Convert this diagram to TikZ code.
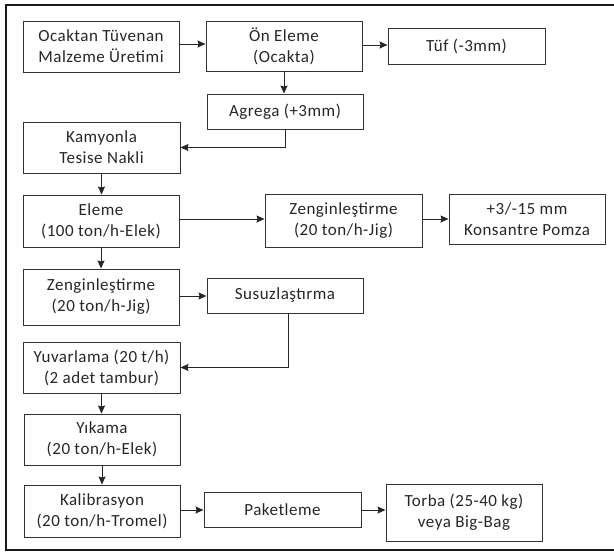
\documentclass[tikz,border=0pt]{standalone}
\usepackage{fontspec}
\setmainfont{Carlito}[LetterSpace=3.0]
\usetikzlibrary{arrows.meta}
\begin{document}
\begin{tikzpicture}[x=1pt,y=-1pt,
  box/.style={draw=black!80, line width=0.9pt, align=center, inner sep=0pt,
    font=\fontsize{17}{21}\selectfont, text=black!85},
  conn/.style={draw=black!85, line width=1pt, -{Stealth[length=8pt,width=7pt,inset=1pt]}}]
\useasboundingbox (0,0) rectangle (614,552);
\draw[line width=2pt, black!90] (614,5) -- (6,5) -- (6,550) -- (614,550);

\node[box, minimum width=156pt, minimum height=51pt] (ocak) at (101,46.5) {Ocaktan Tüvenan\\Malzeme Üretimi};
\node[box, minimum width=156pt, minimum height=50pt] (on) at (284,46) {Ön Eleme\\(Ocakta)};
\node[box, minimum width=157pt, minimum height=36pt] (tuf) at (466.5,46) {Tüf (-3mm)};
\node[box, minimum width=156pt, minimum height=35pt] (agr) at (285,111.5) {Agrega (+3mm)};
\node[box, minimum width=157pt, minimum height=51pt] (kam) at (101.5,147.5) {Kamyonla\\Tesise Nakli};
\node[box, minimum width=156pt, minimum height=52pt] (ele) at (101,221) {Eleme\\(100 ton/h-Elek)};
\node[box, minimum width=157pt, minimum height=53pt] (zr) at (343.5,220.5) {Zenginleştirme\\(20 ton/h-Jig)};
\node[box, minimum width=156pt, minimum height=50pt] (kons) at (527,219) {+3/-15 mm\\Konsantre Pomza};
\node[box, minimum width=156pt, minimum height=56pt] (zl) at (101,297) {Zenginleştirme\\(20 ton/h-Jig)};
\node[box, minimum width=156pt, minimum height=35pt] (sus) at (285,295.5) {Susuzlaştırma};
\node[box, minimum width=157pt, minimum height=51pt] (yuv) at (101.5,367.5) {Yuvarlama (20 t/h)\\(2 adet tambur)};
\node[box, minimum width=156pt, minimum height=51pt] (yik) at (102,439.5) {Yıkama\\(20 ton/h-Elek)};
\node[box, minimum width=156pt, minimum height=52pt] (kal) at (102,511) {Kalibrasyon\\(20 ton/h-Tromel)};
\node[box, minimum width=157pt, minimum height=35pt] (pak) at (282.5,509.5) {Paketleme};
\node[box, minimum width=156pt, minimum height=57pt] (tor) at (464,512.5) {Torba (25-40 kg)\\veya Big-Bag};

\draw[conn] (ocak.east |- 0,44) -- (on.west |- 0,44);
\draw[conn] (on.east |- 0,45) -- (tuf.west |- 0,45);
\draw[conn] (on.south) -- (on.south |- agr.north);
\draw[conn] (agr.south) |- (kam.east);
\draw[conn] (kam.south) -- (kam.south |- ele.north);
\draw[conn] (ele.east |- 0,219) -- (zr.west |- 0,219);
\draw[conn] (zr.east |- 0,219) -- (kons.west |- 0,219);
\draw[conn] (ele.south) -- (ele.south |- zl.north);
\draw[conn] (zl.east |- 0,296) -- (sus.west |- 0,296);
\draw[conn] (sus.south) ++(3,0) coordinate (s1) (s1) |- (yuv.east);
\draw[conn] (yuv.south) -- (yuv.south |- yik.north);
\draw[conn] (yik.south) -- (yik.south |- kal.north);
\draw[conn] (kal.east |- 0,510) -- (pak.west |- 0,510);
\draw[conn] (pak.east |- 0,510) -- (tor.west |- 0,510);
\end{tikzpicture}
\end{document}
